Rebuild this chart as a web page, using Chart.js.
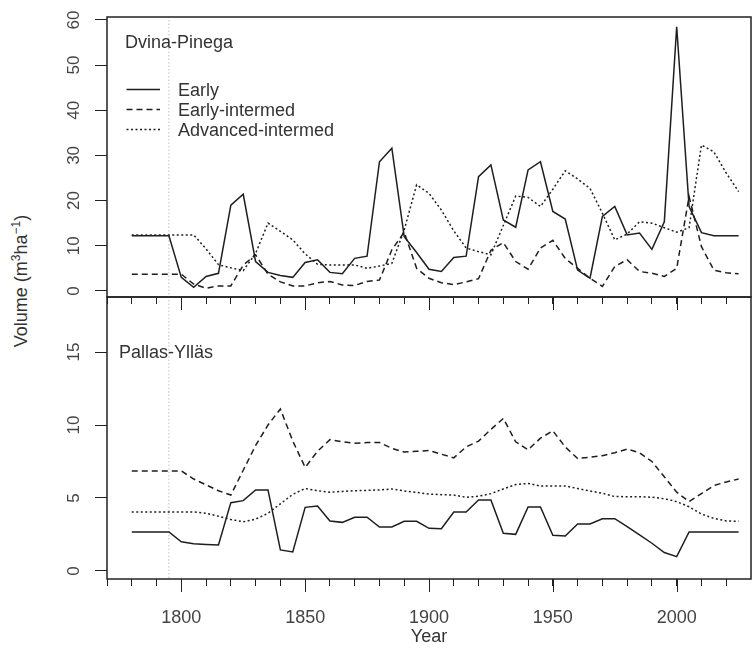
<!DOCTYPE html>
<html>
<head>
<meta charset="utf-8">
<script src="https://cdn.jsdelivr.net/npm/chart.js@4.4.0/dist/chart.umd.min.js"></script>
<style>
    html, body { margin: 0; padding: 0; background: #fff; }
    #wrap { position: relative; width: 753px; height: 659px; overflow: hidden; font-family: "Liberation Sans", Arial, sans-serif; }
    #topChart { position: absolute; left: 0; top: 0; z-index: 2; }
    #bottomChart { position: absolute; left: 0; top: 290px; z-index: 1; }
    #ylab { position: absolute; left: 20px; top: 281px; transform: translate(-50%, -50%) rotate(-90deg); white-space: nowrap; font-size: 18px; color: #333; }
    #ylab sup { font-size: 12px; }
</style>
</head>
<body>
<div id="wrap">
    <canvas id="topChart" width="753" height="312"></canvas>
    <canvas id="bottomChart" width="753" height="369"></canvas>
    <div id="ylab">Volume (m<sup>3</sup>ha<sup>&minus;1</sup>)</div>
</div>
<script>
// years of the series (5-year steps)
const years = [1780, 1785, 1790, 1795, 1800, 1805, 1810, 1815, 1820, 1825,
               1830, 1835, 1840, 1845, 1850, 1855, 1860, 1865, 1870, 1875,
               1880, 1885, 1890, 1895, 1900, 1905, 1910, 1915, 1920, 1925,
               1930, 1935, 1940, 1945, 1950, 1955, 1960, 1965, 1970, 1975,
               1980, 1985, 1990, 1995, 2000, 2005, 2010, 2015, 2020, 2025];

const seriesNames = ["Early", "Early-intermed", "Advanced-intermed"];

// Dvina-Pinega
const dvEarly = [12.2, 12.2, 12.2, 12.2, 3.0, 0.8, 3.2, 3.9, 19.0, 21.4,
                 6.5, 4.1, 3.4, 3.0, 6.3, 6.9, 4.1, 3.8, 7.2, 7.7,
                 28.6, 31.6, 12.0, 8.5, 4.8, 4.3, 7.4, 7.7, 25.3, 27.9,
                 15.7, 14.1, 26.8, 28.6, 17.6, 15.9, 4.6, 2.8, 16.5, 18.7,
                 12.4, 12.8, 9.2, 15.3, 58.5, 18.7, 12.9, 12.2, 12.2, 12.2];
const dvEarlyInt = [3.7, 3.7, 3.7, 3.7, 3.7, 1.5, 0.6, 1.1, 1.1, 5.7,
                    8.0, 3.7, 2.0, 1.1, 1.1, 1.8, 2.1, 1.3, 1.2, 2.1,
                    2.4, 9.1, 13.0, 5.0, 2.8, 1.8, 1.4, 2.0, 2.7, 9.0,
                    10.7, 6.5, 4.8, 9.5, 11.2, 7.2, 5.0, 2.8, 1.0, 5.4,
                    6.9, 4.3, 3.9, 3.2, 5.0, 20.9, 9.8, 4.6, 4.0, 3.8];
const dvAdvInt = [12.4, 12.4, 12.4, 12.4, 12.4, 12.4, 9.3, 5.8, 5.1, 4.5,
                  8.3, 15.0, 13.2, 11.3, 8.2, 5.9, 5.75, 5.75, 5.75, 5.0,
                  5.5, 6.1, 13.5, 23.5, 21.6, 17.9, 13.3, 9.5, 8.7, 8.0,
                  14.5, 21.0, 20.7, 18.7, 22.5, 26.6, 24.8, 22.7, 17.2, 11.3,
                  12.6, 15.3, 15.0, 14.0, 13.0, 14.0, 32.3, 30.8, 26.1, 22.0];

// Pallas-Ylläs
const pyEarly = [2.67, 2.67, 2.67, 2.67, 2.0, 1.87, 1.82, 1.78, 4.68, 4.82,
                 5.55, 5.55, 1.44, 1.3, 4.36, 4.45, 3.42, 3.33, 3.68, 3.68,
                 3.01, 3.01, 3.4, 3.4, 2.92, 2.9, 4.04, 4.04, 4.86, 4.86,
                 2.58, 2.51, 4.38, 4.38, 2.44, 2.4, 3.22, 3.22, 3.58, 3.58,
                 3.04, 2.47, 1.9, 1.26, 0.98, 2.67, 2.67, 2.67, 2.67, 2.67];
const pyEarlyInt = [6.85, 6.85, 6.85, 6.85, 6.85, 6.3, 5.9, 5.5, 5.2, 6.9,
                    8.6, 10.0, 11.1, 8.9, 7.1, 8.2, 9.0, 8.85, 8.75, 8.8,
                    8.8, 8.4, 8.15, 8.2, 8.25, 8.0, 7.75, 8.5, 8.9, 9.7,
                    10.45, 8.85, 8.3, 9.1, 9.6, 8.5, 7.7, 7.8, 7.9, 8.1,
                    8.35, 8.1, 7.5, 6.45, 5.4, 4.75, 5.3, 5.85, 6.1, 6.3];
const pyAdvInt = [4.04, 4.04, 4.04, 4.04, 4.04, 4.04, 3.95, 3.75, 3.53, 3.37,
                  3.55, 3.95, 4.6, 5.25, 5.65, 5.5, 5.4, 5.45, 5.5, 5.52,
                  5.55, 5.62, 5.48, 5.38, 5.27, 5.23, 5.2, 5.05, 5.12, 5.3,
                  5.62, 5.92, 6.0, 5.82, 5.82, 5.82, 5.65, 5.48, 5.32, 5.1,
                  5.09, 5.09, 5.05, 4.95, 4.75, 4.4, 3.9, 3.6, 3.43, 3.4];

// axes
const xTicks = [1770, 1780, 1790, 1800, 1810, 1820, 1830, 1840, 1850, 1860, 1870, 1880, 1890,
                1900, 1910, 1920, 1930, 1940, 1950, 1960, 1970, 1980, 1990, 2000, 2010, 2020];
const xLabels = [1800, 1850, 1900, 1950, 2000];
const yTicksTop = [0, 10, 20, 30, 40, 50, 60];
const yTicksBottom = [0, 5, 10, 15];
const markYear = 1795;

document.addEventListener("DOMContentLoaded", function () {
    Chart.defaults.font.family = '"Liberation Sans", Arial, sans-serif';

    const ink = '#1e1e1e';

    // box round the plot, long ticks at labelled years, panel text and legend
    const panelDecor = {
        id: 'panelDecor',
        afterDraw(chart, args, opts) {
            const { ctx, chartArea: a, scales: { x } } = chart;
            ctx.save();
            ctx.strokeStyle = '#222';
            ctx.lineWidth = 1.5;
            ctx.strokeRect(a.left, a.top, a.right - a.left, a.bottom - a.top);

            ctx.lineWidth = 1;
            xLabels.forEach(v => {
                const px = Math.round(x.getPixelForValue(v)) + 0.5;
                ctx.beginPath();
                ctx.moveTo(px, a.bottom);
                ctx.lineTo(px, a.bottom + 13);
                ctx.stroke();
            });

            ctx.fillStyle = '#333';
            ctx.font = '18px "Liberation Sans", Arial, sans-serif';
            ctx.textBaseline = 'middle';
            ctx.textAlign = 'left';
            ctx.fillText(opts.label, a.left + opts.dx, a.top + opts.dy);

            if (opts.legend) {
                chart.data.datasets.forEach((ds, i) => {
                    if (!ds.label) return;
                    const y = a.top + 72.5 + i * 20;
                    ctx.setLineDash(ds.borderDash || []);
                    ctx.strokeStyle = ds.borderColor;
                    ctx.lineWidth = ds.borderWidth;
                    ctx.beginPath();
                    ctx.moveTo(a.left + 19.5, y);
                    ctx.lineTo(a.left + 53, y);
                    ctx.stroke();
                    ctx.setLineDash([]);
                    ctx.fillText(ds.label, a.left + 71, y + 1.5);
                });
            }
            ctx.restore();
        }
    };

    function points(vals) {
        return years.map((yr, i) => ({ x: yr, y: vals[i] }));
    }

    function makeDatasets(early, earlyInt, advInt) {
        return [
            { label: seriesNames[0], data: points(early), borderColor: ink, borderWidth: 1.5, pointRadius: 0 },
            { label: seriesNames[1], data: points(earlyInt), borderColor: ink, borderWidth: 1.5, borderDash: [6, 4], pointRadius: 0 },
            { label: seriesNames[2], data: points(advInt), borderColor: ink, borderWidth: 1.5, borderDash: [2, 2.5], pointRadius: 0 },
            { label: '', data: [{ x: markYear, y: -100 }, { x: markYear, y: 100 }], borderColor: '#bdbdbd', borderWidth: 1, borderDash: [1.5, 2], pointRadius: 0 }
        ];
    }

    // no extra room for labels overhanging the plot edges
    function noOverhang(s) {
        s.paddingTop = 0;
        s.paddingBottom = 0;
        s.paddingLeft = 0;
        s.paddingRight = 0;
    }

    function makeScales(yMin, yMax, yTicks, showXLabels, xHeight) {
        return {
            x: {
                type: 'linear',
                min: 1770,
                max: 2030,
                afterBuildTicks: s => { s.ticks = xTicks.map(v => ({ value: v })); },
                afterFit: s => { s.height = xHeight; noOverhang(s); },
                grid: { drawOnChartArea: false, tickLength: 7, tickColor: '#222', tickWidth: 1 },
                border: { display: false },
                ticks: {
                    display: showXLabels,
                    autoSkip: false,
                    maxRotation: 0,
                    padding: 21,
                    color: '#444',
                    font: { size: 18 },
                    callback: v => xLabels.includes(v) ? String(v) : ''
                },
                title: { display: showXLabels, text: 'Year', color: '#333', font: { size: 18 }, padding: { top: 0, bottom: 11 } }
            },
            y: {
                type: 'linear',
                min: yMin,
                max: yMax,
                afterBuildTicks: s => { s.ticks = yTicks.map(v => ({ value: v })); },
                afterFit: s => { s.width = 107; noOverhang(s); },
                grid: { drawOnChartArea: false, tickLength: 12, tickColor: '#222', tickWidth: 1 },
                border: { display: false },
                ticks: { minRotation: 90, maxRotation: 90, crossAlign: 'center', padding: 11, color: '#444', font: { size: 17 } }
            }
        };
    }

    new Chart(document.getElementById('topChart'), {
        type: 'line',
        data: { datasets: makeDatasets(dvEarly, dvEarlyInt, dvAdvInt) },
        options: {
            responsive: false,
            animation: false,
            layout: { padding: { top: 17, right: 2, left: 0, bottom: 0 } },
            plugins: {
                legend: { display: false },
                tooltip: { enabled: false },
                panelDecor: { label: 'Dvina-Pinega', dx: 18, dy: 26, legend: true }
            },
            scales: makeScales(-1.35, 60.65, yTicksTop, false, 15)
        },
        plugins: [panelDecor]
    });

    new Chart(document.getElementById('bottomChart'), {
        type: 'line',
        data: { datasets: makeDatasets(pyEarly, pyEarlyInt, pyAdvInt) },
        options: {
            responsive: false,
            animation: false,
            layout: { padding: { top: 7, right: 2, left: 0, bottom: 0 } },
            plugins: {
                legend: { display: false },
                tooltip: { enabled: false },
                panelDecor: { label: 'Pallas-Ylläs', dx: 12, dy: 56, legend: false }
            },
            scales: makeScales(-0.55, 18.77, yTicksBottom, true, 80)
        },
        plugins: [panelDecor]
    });
});
</script>
</body>
</html>
